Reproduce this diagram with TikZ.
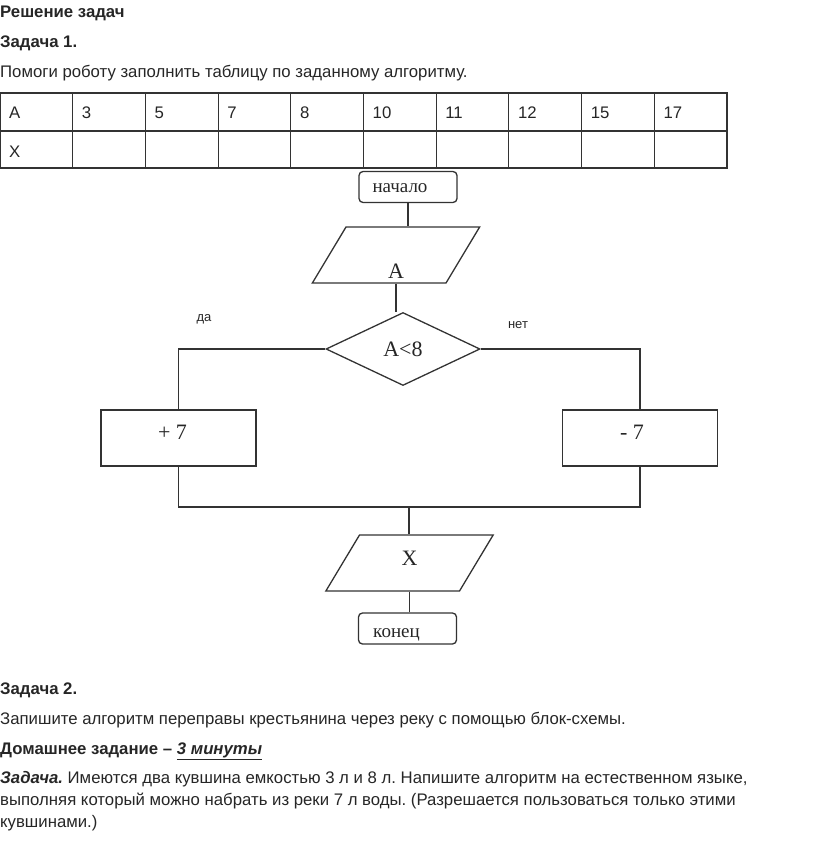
\documentclass[tikz,border=0pt]{standalone}
\usepackage{fontspec}
\setmainfont{Liberation Sans}
\newfontfamily\flowfont{Liberation Serif}
\usetikzlibrary{shapes.geometric}
\frenchspacing

\begin{document}
\begin{tikzpicture}[x=1pt, y=-1pt,
  every node/.style={inner sep=0pt, text=black!85},
  txt/.style={anchor=west, font=\fontsize{16.75}{20}\selectfont},
  term/.style={draw, rounded corners=4pt, minimum width=98pt, minimum height=31pt},
  io/.style={draw, shape=trapezium, trapezium left angle=59, trapezium right angle=121,
    text width=100pt, align=center},
  decide/.style={draw, diamond, minimum width=154pt, minimum height=73pt},
  act/.style={draw, minimum width=155pt, minimum height=56pt},
  flow/.style={font=\flowfont\fontsize{22}{24}\selectfont},
  word/.style={font=\flowfont\fontsize{19}{22}\selectfont},
  small/.style={font=\fontsize{13}{15}\selectfont}
]
  \useasboundingbox (0,0) rectangle (816,845);

  % header
  \node[txt, font=\bfseries\fontsize{16.75}{20}\selectfont] (head) at (0,13) {Решение задач};
  \node[txt, font=\bfseries\fontsize{16.75}{20}\selectfont] (task1) at (0,43) {Задача 1.};
  \node[txt] (ask1) at (0,73) {Помоги роботу заполнить таблицу по заданному алгоритму.};

  % table
  \foreach \v [count=\i] in {A,3,5,7,8,10,11,12,15,17}
    \node[txt] (a\i) at ({(\i-1)*72.7+9},113) {\v};
  \node[txt] (x1) at (9,152) {X};
  \draw[line width=1.1pt, black!80] (0.6,93) rectangle (727,168) (0.6,131) -- (727,131);
  \foreach \i in {1,...,9}
    \draw[line width=1.1pt, black!80] ({\i*72.7},93) -- ({\i*72.7},168);

  % flowchart
  \begin{scope}[line width=1.3pt, black!80]
  \node[term, label={[word, xshift=-8pt, yshift=-1pt]center:начало}] (start) at (408,187) {};
  \node[io, flow, text height=51pt, text depth=5pt] (inA) at (396,255) {A};
  \node[decide, flow] (cond) at (403,349) {A<8};
  \node[act, label={[flow, xshift=-6pt, yshift=6pt]center:+ 7}] (plus) at (178.5,438) {};
  \node[act, label={[flow, xshift=-8pt, yshift=6pt]center:- 7}] (minus) at (640,438) {};
  \coordinate (join) at (409,507);
  \node[io, flow, text height=30pt, text depth=26pt] (outX) at (409.5,563) {X};
  \node[term, label={[word, xshift=-11pt, yshift=-6pt]center:конец}] (stop) at (407.5,628.5) {};

  \node[small] (yes) at (204,319) {да};
  \node[small] (no) at (518,325) {нет};

  \draw (start.south) -- (start.south |- inA.north);
  \draw (inA.south) -- (inA.south |- cond.north);
  \draw (cond.west) -| (plus.north);
  \draw (cond.east) -| (minus.north);
  \draw (plus.south) |- (join) -| (minus.south);
  \draw (join) -- (join |- outX.north);
  \draw (outX.south) -- (outX.south |- stop.north);
  \end{scope}

  % task 2 and homework
  \node[txt, font=\bfseries\fontsize{16.75}{20}\selectfont] (task2) at (0,690) {Задача 2.};
  \node[txt] (ask2) at (0,720) {Запишите алгоритм переправы крестьянина через реку с помощью блок-схемы.};
  \node[txt, font=\bfseries\fontsize{16.75}{20}\selectfont] (home) at (0,751)
    {Домашнее задание – \underline{\itshape 3 минуты}};
  \node[txt, anchor=north west, align=left, font=\fontsize{16.75}{22}\selectfont] (task3) at (0,771)
    {\textbf{\itshape Задача.} Имеются два кувшина емкостью 3 л и 8 л. Напишите алгоритм на естественном языке,\\
     выполняя который можно набрать из реки 7 л воды. (Разрешается пользоваться только этими\\
     кувшинами.)};
\end{tikzpicture}
\end{document}
